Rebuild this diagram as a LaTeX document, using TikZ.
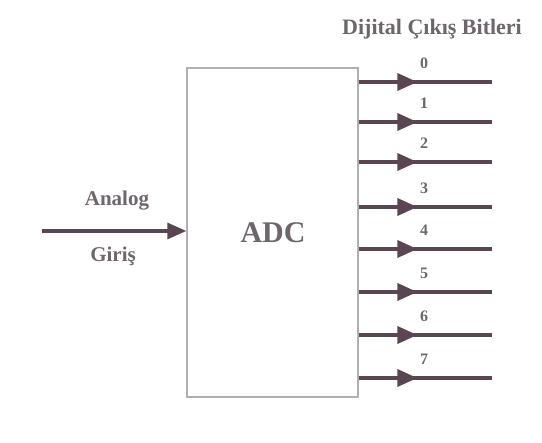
\documentclass[tikz,border=0pt]{standalone}
\usepackage{fontspec}
\setmainfont{Liberation Serif}
\usetikzlibrary{arrows.meta,positioning,calc,decorations.markings}
\definecolor{wire}{HTML}{5A4653}
\definecolor{frame}{HTML}{B4AEB2}
\definecolor{ink}{HTML}{6E666C}
\tikzset{adcbox/.style={draw=frame,line width=1.4pt,minimum width=171pt,minimum height=329pt,inner sep=0pt},
  lbl/.style={text=ink,font=\bfseries\fontsize{21}{23}\selectfont,inner sep=1pt},
  bitline/.style={draw=wire,line width=3.6pt,postaction={decorate},
    decoration={markings,mark=at position 0.44 with {\arrow{Triangle[length=20pt,width=17pt]}}}},
  inarr/.style={draw=wire,line width=3.2pt,-{Triangle[length=19pt,width=16pt]}}}

\begin{document}
\begin{tikzpicture}[x=1pt,y=-1pt]
\useasboundingbox (0,0) rectangle (542,443);
\node[adcbox] (adc) at (272.5,232.5) {};
\node[text=ink,font=\bfseries\fontsize{30}{32}\selectfont] (name) at (273,233) {ADC};
\node[lbl,font=\bfseries\fontsize{22}{24}\selectfont] (title) at (432,29) {Dijital Çıkış Bitleri};
% analog input
\coordinate (in) at (42,231);
\draw[inarr] (in) -- (in -| adc.west);
\node[lbl] (analog) at (117,201) {Analog};
\node[lbl] (giris) at (113,256) {Giriş};
% output bits
\foreach \b/\y in {0/82,1/122,2/162,3/207,4/249,5/292,6/335,7/378}{
  \coordinate (out\b) at (492,\y);
  \draw[bitline] (out\b -| adc.east) -- (out\b);
  \node[lbl,font=\bfseries\fontsize{16}{18}\selectfont] (bit\b) at (424,\y-19) {\b};
}
\end{tikzpicture}
\end{document}
